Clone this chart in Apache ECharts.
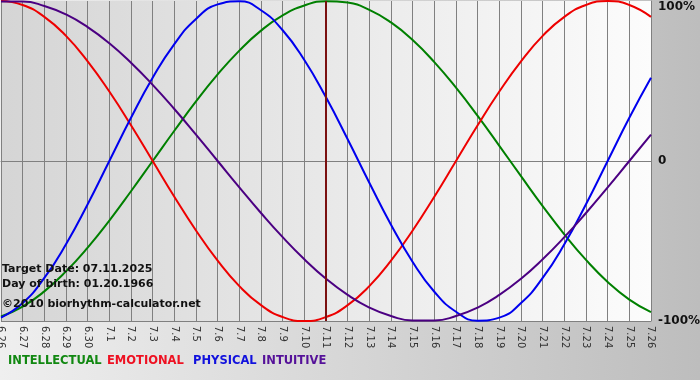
<!DOCTYPE html>
<html><head><meta charset="utf-8">
<script src="https://cdn.jsdelivr.net/npm/echarts@6/dist/echarts.min.js"></script>
<style>html,body{margin:0;padding:0;}#c{width:700px;height:380px;}</style>
</head><body><div id="c"></div>
<script>
var days = ['6.26','6.27','6.28','6.29','6.30','7.1','7.2','7.3','7.4','7.5','7.6','7.7','7.8','7.9','7.10','7.11','7.12','7.13','7.14','7.15','7.16','7.17','7.18','7.19','7.20','7.21','7.22','7.23','7.24','7.25','7.26'];
var intellectual = [-97.2,-91.0,-81.5,-69.0,-54.1,-37.2,-18.9,0,18.9,37.2,54.1,69.0,81.5,91.0,97.2,99.9,99.0,94.5,86.6,75.6,61.8,45.8,28.2,9.5,-9.5,-28.2,-45.8,-61.8,-75.6,-86.6,-94.5];
var emotional = [100,97.5,90.1,78.2,62.3,43.4,22.3,0,-22.3,-43.4,-62.3,-78.2,-90.1,-97.5,-100,-97.5,-90.1,-78.2,-62.3,-43.4,-22.3,0,22.3,43.4,62.3,78.2,90.1,97.5,100,97.5,90.1];
var physical = [-97.9,-88.8,-73.1,-52.0,-27.0,0,27.0,52.0,73.1,88.8,97.9,99.8,94.2,81.7,63.1,39.8,13.6,-13.6,-39.8,-63.1,-81.7,-94.2,-99.8,-97.9,-88.8,-73.1,-52.0,-27.0,0,27.0,52.0];
var intuitive = [99.7,99.7,96.9,91.6,83.7,73.6,61.4,47.6,32.5,16.5,0,-16.5,-32.5,-47.6,-61.4,-73.6,-83.7,-91.6,-96.9,-99.7,-99.7,-96.9,-91.6,-83.7,-73.6,-61.4,-47.6,-32.5,-16.5,0,16.5];
var targetDay = '7.11';
var infoLines = ['Target Date: 07.11.2025', 'Day of birth: 01.20.1966', '\u00a92010 biorhythm-calculator.net'];
var legendNames = ['INTELLECTUAL', 'EMOTIONAL', 'PHYSICAL', 'INTUITIVE'];

var colors = ['#008000', '#ee0000', '#0000ee', '#4b0082'];
var legendColors = ['#118811', '#ee1122', '#1111dd', '#551199'];
var legendX = [8, 107, 193, 262];
var infoY = [271, 286, 306];

var chart = echarts.init(document.getElementById('c'), null, {renderer: 'canvas'});
function mk(name, data, color) {
  return {name: name, type: 'line', data: data, smooth: true, showSymbol: false, symbol: 'none',
    lineStyle: {color: color, width: 2}, itemStyle: {color: color}, animation: false};
}
var series = [mk(legendNames[0], intellectual, colors[0]), mk(legendNames[1], emotional, colors[1]),
  mk(legendNames[2], physical, colors[2]), mk(legendNames[3], intuitive, colors[3])];
series[0].markLine = {silent: true, symbol: 'none', label: {show: false},
  lineStyle: {color: '#7a1010', width: 2, type: 'solid'}, data: [{xAxis: targetDay}], animation: false};

var graphics = [];
infoLines.forEach(function (t, i) {
  graphics.push({type: 'text', left: 2, top: infoY[i] - 7, z: 100,
    style: {text: t, fill: '#111', font: 'bold 11px "DejaVu Sans"'}});
});
legendNames.forEach(function (t, i) {
  graphics.push({type: 'text', left: legendX[i], top: 355, z: 100,
    style: {text: t, fill: legendColors[i], font: 'bold 11.5px "DejaVu Sans"'}});
});

chart.setOption({
  animation: false,
  backgroundColor: {type: 'linear', x: 0, y: 0, x2: 1, y2: 0,
    colorStops: [{offset: 0, color: '#efefef'}, {offset: 1, color: '#bdbdbd'}]},
  grid: {left: 1, right: 49, top: 1, bottom: 59, show: true, borderWidth: 0, containLabel: false, outerBoundsMode: 'none',
    backgroundColor: {type: 'linear', x: 0, y: 0, x2: 1, y2: 0,
      colorStops: [{offset: 0, color: '#d5d5d5'}, {offset: 1, color: '#fcfcfc'}]}},
  xAxis: {type: 'category', data: days, boundaryGap: false,
    axisLine: {show: true, lineStyle: {color: '#808080', width: 1}},
    axisTick: {show: true, length: 4, interval: 0, lineStyle: {color: '#808080'}},
    splitLine: {show: true, interval: 0, lineStyle: {color: '#808080', width: 1}},
    axisLabel: {interval: 0, rotate: -90, fontSize: 10, color: '#333', fontFamily: 'DejaVu Sans', margin: 5}},
  yAxis: {type: 'value', position: 'right', min: -100, max: 100, interval: 100,
    axisLine: {show: true, lineStyle: {color: '#808080'}}, axisTick: {show: false},
    splitLine: {show: true, lineStyle: {color: ['#808080', '#808080', 'rgba(0,0,0,0)'], width: 1}},
    axisLabel: {margin: 7, color: '#111', fontWeight: 'bold', fontSize: 12, fontFamily: 'DejaVu Sans',
      rich: {t: {padding: [12, 0, 0, 0], color: '#111', fontWeight: 'bold', fontSize: 12, fontFamily: 'DejaVu Sans'}},
      formatter: function (v) { return v === 100 ? '{t|100%}' : (v === 0 ? '0' : v + '%'); }}},
  series: series,
  graphic: graphics
});
</script></body></html>
